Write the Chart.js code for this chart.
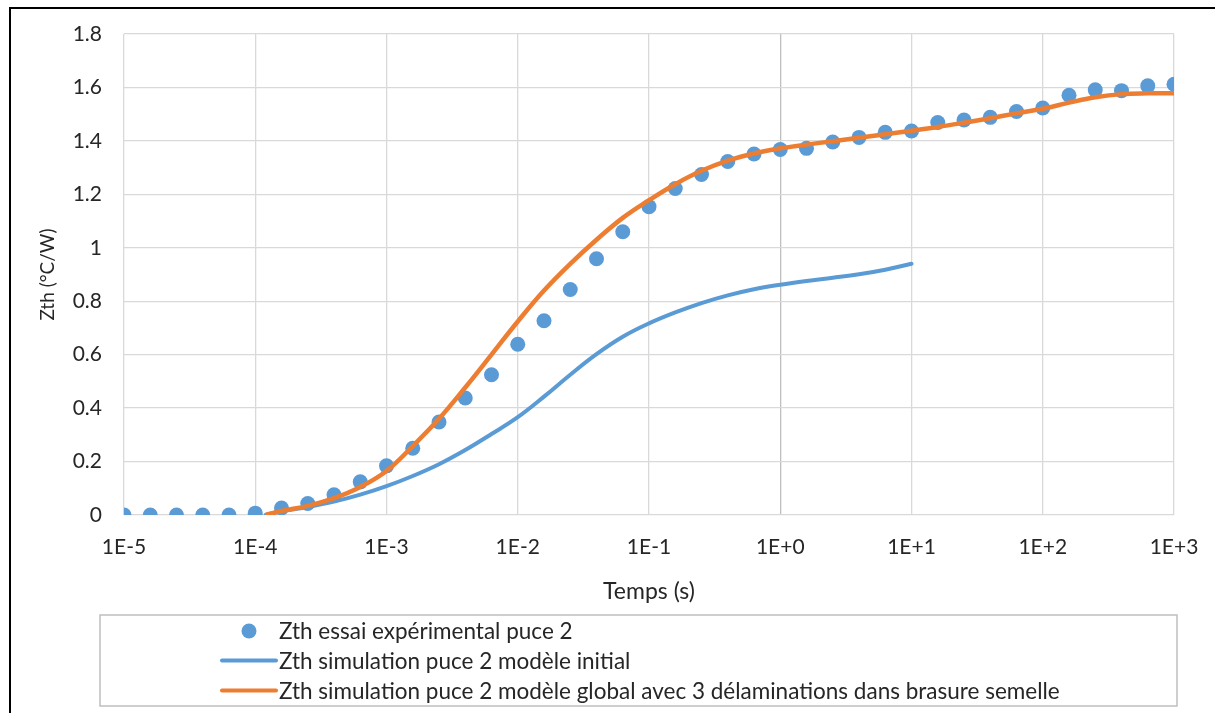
<!DOCTYPE html>
<html><head><meta charset="utf-8">
<script src="https://cdn.jsdelivr.net/npm/chart.js@4/dist/chart.umd.min.js"></script>
<style>html,body{margin:0;padding:0;background:#fff}#wrap{position:relative;width:1215px;height:713px}</style>
</head><body><div id="wrap"><canvas id="c" width="1215" height="713"></canvas></div>
<script>
// ---- data ----
const xTickValues = [1e-5, 1e-4, 1e-3, 1e-2, 1e-1, 1, 10, 100, 1000];
const xTickLabels = ['1E-5', '1E-4', '1E-3', '1E-2', '1E-1', '1E+0', '1E+1', '1E+2', '1E+3'];
const seriesLabels = [
  'Zth essai expérimental puce 2',
  'Zth simulation puce 2 modèle initial',
  'Zth simulation puce 2 modèle global avec 3 délaminations dans brasure semelle'
];
const expTime = [1e-5, 1.585e-5, 2.512e-5, 3.981e-5, 6.31e-5,
  1e-4, 1.585e-4, 2.512e-4, 3.981e-4, 6.31e-4,
  1e-3, 1.585e-3, 2.512e-3, 3.981e-3, 6.31e-3,
  1e-2, 1.585e-2, 2.512e-2, 3.981e-2, 6.31e-2,
  0.1, 0.1585, 0.2512, 0.3981, 0.631,
  1, 1.585, 2.512, 3.981, 6.31,
  10, 15.85, 25.12, 39.81, 63.1,
  100, 158.5, 251.2, 398.1, 631, 1000];
const expZth = [0, 0, 0, 0, 0,
  0.007, 0.026, 0.043, 0.076, 0.124,
  0.184, 0.25, 0.348, 0.438, 0.525,
  0.639, 0.727, 0.844, 0.959, 1.06,
  1.154, 1.222, 1.274, 1.323, 1.351,
  1.368, 1.372, 1.396, 1.413, 1.432,
  1.437, 1.469, 1.478, 1.488, 1.51,
  1.523, 1.571, 1.591, 1.588, 1.606, 1.612];
const initTime = [1.2e-4, 1.585e-4, 2.512e-4, 3.981e-4, 6.31e-4,
  1e-3, 1.585e-3, 2.512e-3, 3.981e-3, 6.31e-3,
  1e-2, 1.585e-2, 2.512e-2, 3.981e-2, 6.31e-2,
  0.1, 0.1585, 0.2512, 0.3981, 0.631,
  1, 1.585, 2.512, 3.981, 6.31, 10];
const initZth = [0, 0.014, 0.03, 0.05, 0.076,
  0.108, 0.146, 0.19, 0.243, 0.303,
  0.366, 0.443, 0.525, 0.602, 0.667,
  0.717, 0.758, 0.793, 0.822, 0.845,
  0.862, 0.876, 0.888, 0.901, 0.918, 0.94];
const globalTime = [1.2e-4, 1.585e-4, 2.512e-4, 3.981e-4, 6.31e-4,
  1e-3, 1.585e-3, 2.512e-3, 3.981e-3, 6.31e-3,
  1e-2, 1.585e-2, 2.512e-2, 3.981e-2, 6.31e-2,
  0.1, 0.1585, 0.2512, 0.3981, 0.631,
  1, 1.585, 2.512, 3.981, 6.31,
  10, 15.85, 25.12, 39.81, 63.1,
  100, 158.5, 251.2, 398.1, 631, 1000];
const globalZth = [0, 0.015, 0.034, 0.063, 0.105,
  0.165, 0.258, 0.36, 0.477, 0.6,
  0.724, 0.84, 0.94, 1.03, 1.112,
  1.178, 1.238, 1.288, 1.326, 1.353,
  1.372, 1.386, 1.399, 1.412, 1.425,
  1.438, 1.452, 1.468, 1.485, 1.503,
  1.52, 1.543, 1.563, 1.575, 1.578, 1.578];

const BLUE = '#5b9bd5', ORANGE = '#ed7d31';
const FONT = 'Lato';
const TEXT = '#262626';

const pts = (xs, ys) => xs.map((x, i) => ({x: x, y: ys[i]}));

const framePlugin = {
  id: 'frame',
  beforeDraw(chart) {
    const ctx = chart.ctx;
    ctx.save();
    ctx.fillStyle = '#fff';
    ctx.fillRect(0, 0, chart.width, chart.height);
    ctx.restore();
  },
  afterDraw(chart) {
    const ctx = chart.ctx;
    ctx.save();
    ctx.strokeStyle = '#000';
    ctx.lineWidth = 2;
    ctx.beginPath();
    ctx.moveTo(10, chart.height); ctx.lineTo(10, 8); ctx.lineTo(chart.width, 8);
    ctx.stroke();
    // legend box
    const bx = 100, by = 615, bw = 1077, bh = 91;
    ctx.strokeStyle = '#bfbfbf';
    ctx.lineWidth = 1.5;
    ctx.strokeRect(bx, by, bw, bh);
    const rows = [631, 660.5, 690.5];
    ctx.font = '22.5px ' + FONT;
    ctx.textBaseline = 'middle';
    ctx.textAlign = 'left';
    chart.data.datasets.forEach((ds, i) => {
      const y = rows[i];
      if (ds.showLine) {
        ctx.strokeStyle = ds.borderColor;
        ctx.lineWidth = 4;
        ctx.lineCap = 'round';
        ctx.beginPath(); ctx.moveTo(222, y); ctx.lineTo(276, y); ctx.stroke();
      } else {
        ctx.fillStyle = ds.backgroundColor;
        ctx.beginPath(); ctx.arc(249, y, ds.pointRadius, 0, Math.PI * 2); ctx.fill();
      }
      ctx.fillStyle = TEXT;
      ctx.fillText(ds.label, 279, y + 1);
    });
    ctx.restore();
  }
};

new Chart(document.getElementById('c'), {
  type: 'scatter',
  data: {
    datasets: [
      {label: seriesLabels[0], data: pts(expTime, expZth), backgroundColor: BLUE, borderColor: BLUE,
       pointRadius: 7.5, pointBorderWidth: 0, showLine: false, order: 3},
      {label: seriesLabels[1], data: pts(initTime, initZth), borderColor: BLUE, backgroundColor: BLUE,
       borderWidth: 4, pointRadius: 0, showLine: true, tension: 0.4, borderCapStyle: 'round', order: 2},
      {label: seriesLabels[2], data: pts(globalTime, globalZth), borderColor: ORANGE, backgroundColor: ORANGE,
       borderWidth: 4.5, pointRadius: 0, showLine: true, tension: 0.4, order: 1}
    ]
  },
  options: {
    responsive: false, animation: false, devicePixelRatio: 1,
    layout: {padding: {left: 36, top: 34, right: 41, bottom: 108}},
    plugins: {legend: {display: false}, tooltip: {enabled: false}},
    scales: {
      x: {
        type: 'logarithmic', min: 1e-5, max: 1000,
        afterBuildTicks: s => { s.ticks = xTickValues.map(v => ({value: v})); },
        afterFit: s => { s.height = 90; s.paddingLeft = 0; s.paddingRight = 0; },
        ticks: {autoSkip: false, maxRotation: 0, padding: 20, color: TEXT,
          font: {family: FONT, size: 21},
          callback: (v, i) => xTickLabels[i]},
        grid: {drawTicks: false, lineWidth: 1.3,
          color: c => (c.tick && c.tick.value === 1) ? '#bfbfbf' : '#d9d9d9'},
        border: {display: false},
        title: {display: true, text: 'Temps (s)', color: TEXT, font: {family: FONT, size: 23},
          padding: {top: 0, bottom: 0}}
      },
      y: {
        min: 0, max: 1.8,
        afterFit: s => { s.width = 88; s.paddingTop = 0; s.paddingBottom = 0; },
        ticks: {stepSize: 0.2, padding: 22, color: TEXT, font: {family: FONT, size: 21},
          callback: v => String(Math.round(v * 10) / 10)},
        grid: {drawTicks: false, lineWidth: 1.3, color: '#d9d9d9'},
        border: {display: false},
        title: {display: true, text: 'Zth (°C/W)', color: TEXT, font: {family: FONT, size: 19},
          padding: {top: 0, bottom: 0}}
      }
    }
  },
  plugins: [framePlugin]
});
</script></body></html>
